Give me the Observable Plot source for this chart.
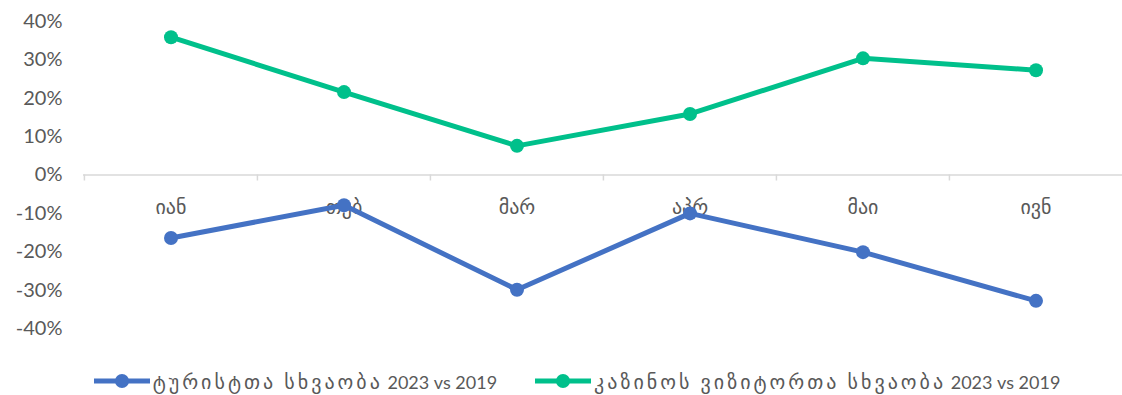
<!DOCTYPE html>
<html>
<head>
<meta charset="utf-8">
<script src="https://cdn.jsdelivr.net/npm/d3@7"></script>
<script src="https://cdn.jsdelivr.net/npm/@observablehq/plot@0.6"></script>
<style>
  body { margin: 0; background: #fff; font-family: Lato, "DejaVu Sans", sans-serif; }
  #legend { display: flex; justify-content: center; align-items: center; gap: 38px; height: 52px; padding-left: 32px; font-size: 18px; color: #595959; }
  .item { display: flex; align-items: center; gap: 3px; white-space: nowrap; }
  .ka { font-size: 20px; letter-spacing: 3px; }
</style>
</head>
<body>
<div id="chart"></div>
<div id="legend"></div>
<script>
// Monthly change, 2023 vs 2019 (share)
const months = ["იან", "თებ", "მარ", "აპრ", "მაი", "ივნ"];
const touristDiff = [-0.164, -0.079, -0.299, -0.100, -0.201, -0.328];
const casinoDiff = [0.359, 0.216, 0.076, 0.159, 0.304, 0.273];
const seriesNames = ["ტურისტთა სხვაობა 2023 vs 2019", "კაზინოს ვიზიტორთა სხვაობა 2023 vs 2019"];
const seriesColors = ["#4472C4", "#00C08B"];
const yTicks = [-0.4, -0.3, -0.2, -0.1, 0, 0.1, 0.2, 0.3, 0.4];

const rows = [
  ...months.map((m, i) => ({month: m, value: touristDiff[i], series: seriesNames[0]})),
  ...months.map((m, i) => ({month: m, value: casinoDiff[i], series: seriesNames[1]}))
];

const width = 1122, height = 355;
const marginLeft = 83, marginRight = 0;
const bandwidth = (width - marginLeft - marginRight) / months.length;
const textFont = "Lato, 'DejaVu Sans', sans-serif";

const chart = Plot.plot({
  width, height,
  marginLeft, marginRight, marginTop: 21, marginBottom: 27,
  style: {fontFamily: textFont, background: "#fff"},
  x: {type: "band", domain: months, padding: 0, axis: null},
  y: {domain: [-0.4, 0.4], axis: null},
  color: {domain: seriesNames, range: seriesColors},
  marks: [
    Plot.axisY({
      ticks: yTicks, tickSize: 0, tickPadding: 21,
      tickFormat: d => Math.round(d * 100) + "%",
      fontSize: 20, fill: "#595959", label: null
    }),
    Plot.ruleY([0], {stroke: "#d9d9d9", strokeWidth: 1.5}),
    // category boundary ticks below the zero line
    Plot.ruleX(months, {x: d => d, y1: 0, y2: -0.0156, dx: -bandwidth / 2, stroke: "#d9d9d9", strokeWidth: 1.5}),
    Plot.text(months, {x: d => d, y: 0, dy: 33, text: d => d, fontSize: 20, fill: "#595959"}),
    Plot.line(rows, {x: "month", y: "value", z: "series", stroke: "series", strokeWidth: 5}),
    Plot.dot(rows, {x: "month", y: "value", fill: "series", r: 7})
  ]
});
document.getElementById("chart").append(chart);

// legend below the chart; Georgian runs get their own span for spacing
const legend = d3.select("#legend");
seriesNames.forEach((name, i) => {
  const item = legend.append("div").attr("class", "item");
  const sw = item.append("svg").attr("width", 56).attr("height", 16);
  sw.append("line").attr("x1", 0).attr("x2", 56).attr("y1", 8).attr("y2", 8)
    .attr("stroke", seriesColors[i]).attr("stroke-width", 5);
  sw.append("circle").attr("cx", 28).attr("cy", 8).attr("r", 7).attr("fill", seriesColors[i]);
  const label = item.append("span");
  name.split(/([\u10A0-\u10FF]+(?: [\u10A0-\u10FF]+)*)/).filter(s => s).forEach(part => {
    label.append("span").attr("class", /[\u10A0-\u10FF]/.test(part) ? "ka" : null).text(part);
  });
});
</script>
</body>
</html>
